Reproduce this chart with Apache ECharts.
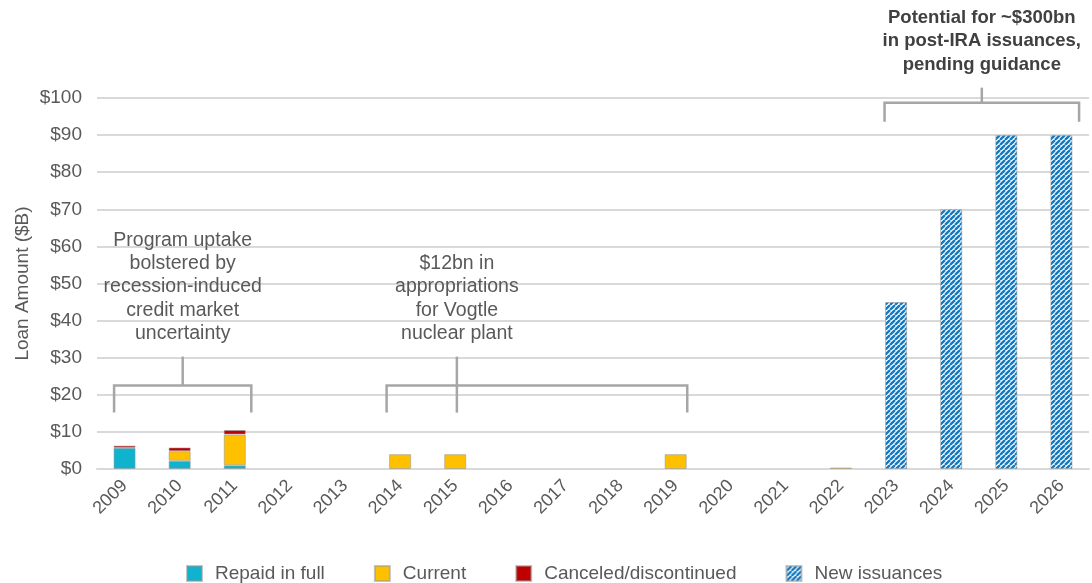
<!DOCTYPE html>
<html>
<head>
<meta charset="utf-8">
<script src="https://cdn.jsdelivr.net/npm/echarts@6/dist/echarts.min.js"></script>
<style>
  html, body { margin: 0; padding: 0; background: #fff; }
  #chart { width: 1092px; height: 583px; }
</style>
</head>
<body>
<div id="chart"></div>
<script>
// Loan program: amounts by year ($B)
const years = ['2009','2010','2011','2012','2013','2014','2015','2016','2017','2018','2019','2020','2021','2022','2023','2024','2025','2026'];
const repaidInFull = [5.7, 2.2, 1.0, 0, 0, 0, 0, 0, 0, 0, 0, 0, 0, 0, 0, 0, 0, 0];
const current      = [0, 2.6, 8.3, 0, 0, 4, 4, 0, 0, 0, 4, 0, 0, 0.4, 0, 0, 0, 0];
const canceled     = [0.6, 1.0, 1.2, 0, 0, 0, 0, 0, 0, 0, 0, 0, 0, 0, 0, 0, 0, 0];
const newIssuances = [0, 0, 0, 0, 0, 0, 0, 0, 0, 0, 0, 0, 0, 0, 45, 70, 90, 90];
const yTicks = { min: 0, max: 100, interval: 10 };

const FONT = "'Liberation Sans', Arial, sans-serif";
const TEXT = '#595959';
const BRACKET = '#a6a6a6';

// Diagonal stripe fill for projected issuances
function makeHatch(color) {
  const s = 5;
  const c = document.createElement('canvas');
  c.width = s; c.height = s;
  const g = c.getContext('2d');
  g.fillStyle = '#ffffff';
  g.fillRect(0, 0, s, s);
  g.strokeStyle = color;
  g.lineWidth = 2.4;
  g.beginPath();
  for (let k = -1; k <= 1; k++) {
    g.moveTo(k * s, s);
    g.lineTo(k * s + s, 0);
  }
  g.stroke();
  return c;
}
const hatch = { image: makeHatch('#137ac2'), repeat: 'repeat' };

const chart = echarts.init(document.getElementById('chart'), null, { renderer: 'canvas' });

const barBorder = { borderColor: 'rgba(150,150,150,0.55)', borderWidth: 1 };

// empty years carry no segment
const nz = arr => arr.map(v => (v === 0 ? null : v));

function barSeries(name, data, color) {
  return {
    name, type: 'bar', stack: 'total', data: nz(data),
    barWidth: '40%',
    itemStyle: Object.assign({ color }, barBorder),
    emphasis: { disabled: true }
  };
}

chart.setOption({
  animation: false,
  backgroundColor: '#ffffff',
  grid: { left: 97, right: 3, top: 98, bottom: 114, containLabel: false },
  legend: {
    left: 186, top: 564, padding: 0,
    itemWidth: 15, itemHeight: 15, itemGap: 49,
    icon: 'rect',
    textStyle: { fontFamily: FONT, fontSize: 19, color: TEXT, padding: [0, 0, 0, 8] },
    data: ['Repaid in full', 'Current', 'Canceled/discontinued', 'New issuances']
  },
  xAxis: {
    type: 'category',
    data: years,
    axisLine: { lineStyle: { color: '#d9d9d9', width: 2 } },
    axisTick: { show: false },
    axisLabel: { interval: 0, rotate: 45, margin: 14, fontFamily: FONT, fontSize: 18, color: TEXT }
  },
  yAxis: {
    type: 'value',
    min: yTicks.min, max: yTicks.max, interval: yTicks.interval,
    name: 'Loan Amount ($B)',
    nameLocation: 'middle',
    nameGap: 65,
    nameMoveOverlap: false,
    nameTextStyle: { fontFamily: FONT, fontSize: 19, color: TEXT },
    axisLine: { show: false },
    axisTick: { show: false },
    axisLabel: { margin: 15, fontFamily: FONT, fontSize: 19, color: TEXT, formatter: v => '$' + v },
    splitLine: { lineStyle: { color: '#d9d9d9', width: 2 } }
  },
  series: [
    barSeries('Repaid in full', repaidInFull, '#0fb3ce'),
    barSeries('Current', current, '#ffc000'),
    barSeries('Canceled/discontinued', canceled, '#c00000'),
    barSeries('New issuances', newIssuances, hatch)
  ]
});

// Bracket annotations, positioned through the axes
const px = (cat, val) => chart.convertToPixel({ xAxisIndex: 0, yAxisIndex: 0 }, [cat, val]);
const step = px(years[1], 0)[0] - px(years[0], 0)[0];
const xAt = (cat, offset) => px(cat, 0)[0] + offset * step;
const yAt = v => px(years[0], v)[1];

const brackets = [
  { from: ['2009', -0.19], to: ['2011', 0.3], stem: null, bar: 22.5, ends: 15.2, top: 30.3, stemDown: false,
    text: 'Program uptake\nbolstered by\nrecession-induced\ncredit market\nuncertainty', bold: false },
  { from: ['2014', -0.245], to: ['2019', 0.21], stem: ['2015', 0.03], bar: 22.5, ends: 15.2, top: 30.3, stemDown: true,
    text: '$12bn in\nappropriations\nfor Vogtle\nnuclear plant', bold: false },
  { from: ['2023', -0.21], to: ['2026', 0.32], stem: null, bar: 98.7, ends: 93.6, top: 102.8, stemDown: false,
    text: 'Potential for ~$300bn\nin post-IRA issuances,\npending guidance', bold: true }
];

const elements = [];
brackets.forEach(b => {
  const x1 = xAt(b.from[0], b.from[1]);
  const x2 = xAt(b.to[0], b.to[1]);
  const xs = b.stem ? xAt(b.stem[0], b.stem[1]) : (x1 + x2) / 2;
  const yBar = yAt(b.bar), yEnd = yAt(b.ends), yTop = yAt(b.top);
  const line = { stroke: BRACKET, lineWidth: 2.5, fill: null };
  elements.push({ type: 'polyline', silent: true, shape: { points: [[x1, yEnd], [x1, yBar], [x2, yBar], [x2, yEnd]] }, style: line });
  elements.push({ type: 'line', silent: true, shape: { x1: xs, y1: yTop, x2: xs, y2: b.stemDown ? yEnd : yBar }, style: line });
  elements.push({
    type: 'text', silent: true, x: xs, y: yTop - 11.5,
    style: {
      text: b.text, fill: b.bold ? '#404040' : TEXT,
      fontFamily: FONT, fontSize: b.bold ? 18.5 : 19.5, fontWeight: b.bold ? 'bold' : 'normal',
      lineHeight: 23.2,
      align: 'center', verticalAlign: 'bottom',
      textAlign: 'center', textVerticalAlign: 'bottom'
    }
  });
});
chart.setOption({ graphic: { elements } });
</script>
</body>
</html>
